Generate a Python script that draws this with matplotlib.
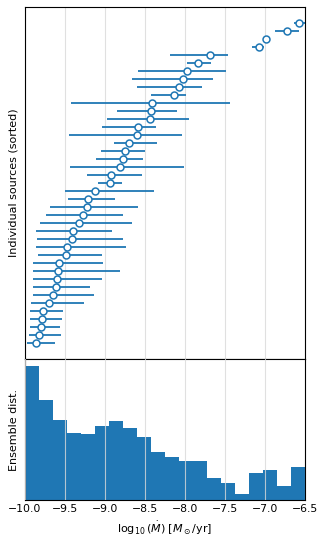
import matplotlib
matplotlib.use("Agg")
import matplotlib.pyplot as plt
import numpy as np

# per-source estimates, sorted ascending (bottom -> top)
centers = [-9.855, -9.822, -9.793, -9.780, -9.768, -9.701, -9.639, -9.610, -9.598, -9.589,
           -9.565, -9.482, -9.465, -9.411, -9.390, -9.316, -9.266, -9.216, -9.208, -9.117,
           -8.938, -8.917, -8.805, -8.776, -8.743, -8.698, -8.598, -8.590, -8.436, -8.428,
           -8.407, -8.142, -8.071, -8.030, -7.972, -7.843, -7.690, -7.076, -6.993, -6.731,
           -6.578]
lower = [-9.963, -9.950, -9.938, -9.938, -9.938, -9.921, -9.900, -9.900, -9.900, -9.896,
         -9.892, -9.838, -9.855, -9.842, -9.855, -9.813, -9.730, -9.685, -9.453, -9.494,
         -9.088, -9.224, -9.432, -9.108, -9.046, -8.884, -9.444, -9.038, -8.971, -8.851,
         -9.415, -8.420, -8.598, -8.660, -8.582, -7.972, -8.187, -7.163, -7.034, -6.877,
         -6.640]
upper = [-9.618, -9.544, -9.556, -9.531, -9.515, -9.253, -9.137, -9.183, -9.038, -8.805,
         -9.025, -9.029, -8.731, -8.776, -8.905, -8.664, -8.776, -8.590, -8.868, -8.391,
         -8.789, -8.536, -8.017, -8.523, -8.503, -8.349, -8.038, -8.366, -7.951, -8.105,
         -7.437, -7.984, -7.789, -7.657, -7.487, -7.681, -7.462, -7.017, -6.943, -6.578,
         -6.450]

# ensemble distribution, 20 bins over [-10, -6.5]
bin_edges = np.linspace(-10.0, -6.5, 21)
bin_heights = [4.02, 2.99, 2.38, 2.02, 1.99, 2.22, 2.36, 2.17, 1.89, 1.43,
               1.28, 1.16, 1.16, 0.66, 0.51, 0.19, 0.80, 0.89, 0.43, 0.99]

xticks = [-10.0, -9.5, -9.0, -8.5, -8.0, -7.5, -7.0, -6.5]

centers = np.array(centers)
lower = np.array(lower)
upper = np.array(upper)
y = np.arange(len(centers))

fig, (ax_top, ax_hist) = plt.subplots(
    2, 1, sharex=True, figsize=(3.27, 5.42), dpi=100,
    gridspec_kw={"height_ratios": [351.7, 141]},
)
fig.subplots_adjust(left=0.075, right=0.934, top=0.9865, bottom=0.0775, hspace=0)

blue = "#1f77b4"

ax_top.errorbar(
    centers, y,
    xerr=[centers - lower, upper - centers],
    fmt="o", color=blue, ecolor=blue, elinewidth=1.3, capsize=0,
    markersize=5, markerfacecolor="white", markeredgecolor=blue, markeredgewidth=1.1,
)
ax_top.set_yticks([])
ax_top.set_ylabel("Individual sources (sorted)", fontsize=8)
ax_top.grid(True, axis="x", color="0.88", linewidth=0.8)
ax_top.set_axisbelow(True)
ax_top.tick_params(axis="x", length=0, labelbottom=False)

bin_mids = 0.5 * (bin_edges[:-1] + bin_edges[1:])
ax_hist.hist(bin_mids, bins=bin_edges, weights=bin_heights, color=blue)
ax_hist.set_yticks([])
ax_hist.set_ylabel("Ensemble dist.", fontsize=8)
ax_hist.grid(True, axis="x", color="0.85", linewidth=0.8, alpha=0.8)
ax_hist.set_axisbelow(False)
ax_hist.set_xlim(-10.0, -6.5)
ax_hist.set_xticks(xticks)
ax_hist.set_xticklabels([f"{t:.1f}".replace("-", "\u2212") for t in xticks], fontsize=7.8)
ax_hist.tick_params(axis="x", length=0, pad=3)
ax_hist.set_xlabel(r"$\log_{10}(\dot{M})$ [$M_\odot$/yr]", fontsize=8)

fig.savefig("out.png", dpi=100)
